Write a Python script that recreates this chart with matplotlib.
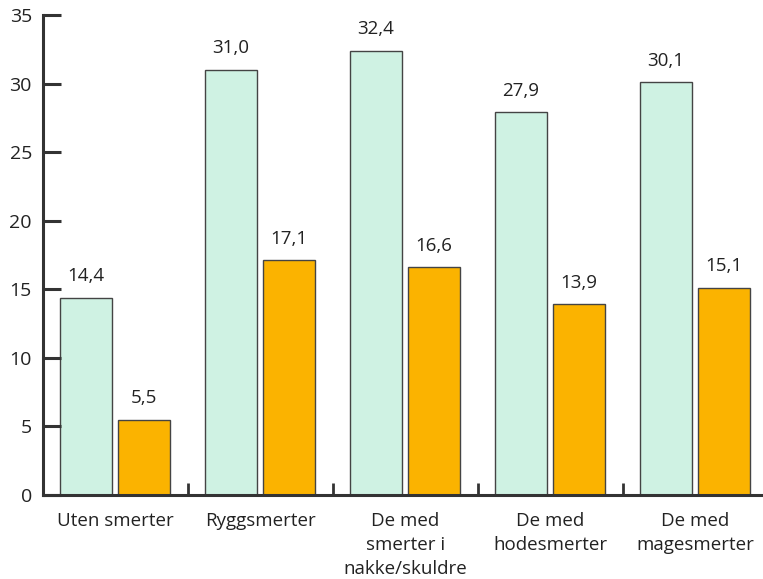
import matplotlib
matplotlib.use("Agg")
import matplotlib.pyplot as plt
import numpy as np

categories = ["Uten smerter", "Ryggsmerter", "De med\nsmerter i\nnakke/skuldre", "De med\nhodesmerter", "De med\nmagesmerter"]
series_a = [14.4, 31.0, 32.4, 27.9, 30.1]
series_b = [5.5, 17.1, 16.6, 13.9, 15.1]
yticks = [0, 5, 10, 15, 20, 25, 30, 35]

plt.rcParams['font.family'] = ['Open Sans', 'DejaVu Sans']

fig = plt.figure(figsize=(7.63, 5.79), dpi=100)
ax = fig.add_axes([43/763, 84/579, 722/763, 480/579])

x = np.arange(len(categories))
w = 0.36
ax.bar(x + 0.297, series_a, width=w, color="#cff2e3", edgecolor="#444444", linewidth=1.0)
ax.bar(x + 0.697, series_b, width=w, color="#fbb300", edgecolor="#444444", linewidth=1.0)

for xi, v in zip(x + 0.297, series_a):
    ax.annotate(f"{v:.1f}".replace(".", ","), (xi, v), xytext=(0, 9), textcoords="offset points",
                ha="center", va="bottom", fontsize=13.5, color="#222222")
for xi, v in zip(x + 0.697, series_b):
    ax.annotate(f"{v:.1f}".replace(".", ","), (xi, v), xytext=(0, 9), textcoords="offset points",
                ha="center", va="bottom", fontsize=13.5, color="#222222")

ax.set_xlim(0, 4.98)
ax.set_ylim(0, 35)
ax.set_yticks(yticks)
ax.set_yticklabels([str(t) for t in yticks], fontsize=14, color="#222222")
ax.set_xticks(x + 0.5)
ax.set_xticklabels(categories, fontsize=13.5, color="#222222", linespacing=1.45)
ax.set_xticks([1, 2, 3, 4], minor=True)
ax.tick_params(axis="x", which="major", length=0, pad=12)
ax.tick_params(axis="x", which="minor", direction="in", length=9, width=2, color="#333333")
ax.tick_params(axis="y", direction="in", length=13, width=2.2, color="#333333", pad=8)
for s in ["top", "right"]:
    ax.spines[s].set_visible(False)
for s in ["left", "bottom"]:
    ax.spines[s].set_linewidth(2.2)
    ax.spines[s].set_color("#333333")

fig.savefig("out.png", dpi=100)
